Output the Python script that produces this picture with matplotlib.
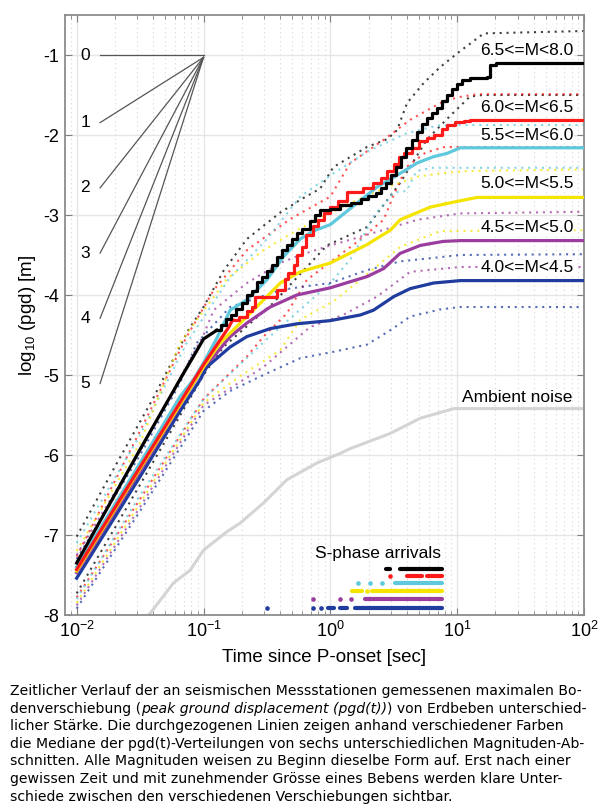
import numpy as np
import matplotlib
matplotlib.use("Agg")
import matplotlib.pyplot as plt
from matplotlib.ticker import LogLocator, NullFormatter

plt.rcParams['font.family'] = ['Liberation Sans', 'DejaVu Sans']
plt.rcParams['mathtext.fontset'] = 'custom'
plt.rcParams['mathtext.rm'] = 'Liberation Sans'
plt.rcParams['mathtext.it'] = 'Liberation Sans:italic'
plt.rcParams['axes.unicode_minus'] = False

# --- medians (x given as log10 of time in sec) ---
# black and red: smooth start, then a stair part (drawn with steps-post)
black_lt = [-2.0, -1.5, -1.158, -1.08, -1.0, -0.895]
black_y = [-7.35, -5.93, -4.98, -4.77, -4.55, -4.44]
black_step_lt = [-0.9, -0.86, -0.82, -0.78, -0.74, -0.7, -0.66, -0.62, -0.58, -0.54, -0.5,
                 -0.46, -0.42, -0.38, -0.34, -0.3, -0.26, -0.22, -0.16, -0.12, -0.08, 0.0,
                 0.08, 0.16, 0.24, 0.3, 0.36, 0.4, 0.44, 0.48, 0.52, 0.56, 0.6, 0.64, 0.68,
                 0.72, 0.76, 0.8, 0.84, 0.88, 0.92, 0.96, 1.0, 1.04, 1.1, 1.236, 1.262, 1.31, 2.0]
black_step_y = [-4.44, -4.38, -4.3, -4.25, -4.18, -4.1, -4.0, -3.95, -3.84, -3.78, -3.7,
                -3.62, -3.52, -3.44, -3.38, -3.3, -3.23, -3.18, -3.08, -3.0, -2.94, -2.92,
                -2.88, -2.85, -2.8, -2.76, -2.73, -2.66, -2.6, -2.5, -2.4, -2.28, -2.16, -2.06,
                -1.96, -1.86, -1.79, -1.72, -1.66, -1.58, -1.5, -1.42, -1.36, -1.31, -1.29,
                -1.27, -1.125, -1.1, -1.1]

red_lt = [-2.0, -1.5, -1.0, -0.8, -0.77]
red_y = [-7.43, -6.15, -4.87, -4.4, -4.31]
red_step_lt = [-0.77, -0.72, -0.66, -0.62, -0.593, -0.42, -0.36, -0.33, -0.29, -0.26, -0.22,
               -0.19, -0.14, -0.1, -0.05, 0.0, 0.06, 0.13, 0.26, 0.34, 0.4, 0.45, 0.5, 0.54,
               0.58, 0.64, 0.7, 0.76, 0.82, 0.88, 0.92, 0.98, 1.05, 1.105, 2.0]
red_step_y = [-4.31, -4.28, -4.2, -4.15, -4.02, -3.94, -3.8, -3.73, -3.62, -3.5, -3.4,
              -3.25, -3.14, -3.06, -2.98, -2.9, -2.82, -2.71, -2.66, -2.6, -2.54, -2.45, -2.36,
              -2.28, -2.22, -2.16, -2.08, -2.04, -2.0, -1.92, -1.87, -1.84, -1.82, -1.81, -1.81]

cyan_lt = [-2.0, -1.5, -1.343, -1.185, -1.08, -1.0, -0.895, -0.79, -0.658, -0.5, -0.37,
           -0.237, -0.134, 0.0, 0.157, 0.368, 0.55, 0.684, 0.815, 0.92, 1.025, 1.1, 2.0]
cyan_y = [-7.4, -6.1, -5.69, -5.27, -5.06, -4.85, -4.54, -4.19, -4.06, -3.81, -3.52,
          -3.3, -3.2, -3.12, -2.92, -2.65, -2.48, -2.35, -2.27, -2.23, -2.16, -2.16, -2.16]

yellow_lt = [-2.0, -1.5, -1.0, -0.869, -0.658, -0.5, -0.395, -0.237, 0.0, 0.289, 0.473,
             0.55, 0.79, 1.0, 1.158, 2.0]
yellow_y = [-7.45, -6.17, -4.9, -4.6, -4.27, -4.02, -3.85, -3.71, -3.6, -3.37, -3.19,
            -3.06, -2.9, -2.83, -2.78, -2.78]

purple_lt = [-2.0, -1.5, -1.185, -1.0, -0.92, -0.79, -0.658, -0.474, -0.264, 0.0, 0.289,
             0.42, 0.55, 0.71, 0.89, 1.025, 2.0]
purple_y = [-7.47, -6.2, -5.38, -4.9, -4.77, -4.52, -4.35, -4.15, -4.0, -3.91, -3.77,
            -3.67, -3.48, -3.38, -3.33, -3.32, -3.32]

blue_lt = [-2.0, -1.5, -1.185, -1.027, -0.974, -0.79, -0.658, -0.474, -0.264, 0.0, 0.236,
           0.34, 0.5, 0.63, 0.815, 1.025, 2.0]
blue_y = [-7.54, -6.27, -5.45, -5.06, -4.9, -4.65, -4.52, -4.42, -4.36, -4.32, -4.25,
          -4.19, -4.02, -3.92, -3.85, -3.82, -3.82]

# --- upper / lower percentiles (dotted) ---
black_hi_lt = [-2.0, -1.7, -1.4, -1.12, -1.0, -0.843, -0.658, -0.395, -0.237, -0.08, 0.025,
               0.289, 0.45, 0.526, 0.605, 0.736, 0.867, 1.0, 1.21, 2.0]
black_hi_y = [-7.02, -6.15, -5.3, -4.44, -4.15, -3.7, -3.3, -2.97, -2.81, -2.67, -2.4,
              -2.15, -2.05, -1.94, -1.6, -1.35, -1.15, -0.98, -0.73, -0.70]
black_lo_lt = [-2.0, -1.5, -1.0, -0.843, -0.45, -0.027, 0.289, 0.55, 0.76, 0.92, 1.1, 1.2, 2.0]
black_lo_y = [-7.73, -6.37, -5.0, -4.65, -4.1, -3.38, -3.15, -2.6, -2.06, -1.8, -1.52, -1.5, -1.5]

red_hi_lt = [-2.0, -1.5, -1.132, -0.92, -0.658, -0.316, 0.0, 0.157, 0.42, 0.63, 0.867,
             1.0, 1.158, 2.0]
red_hi_y = [-7.27, -5.7, -4.52, -3.94, -3.44, -3.05, -2.77, -2.35, -2.06, -1.81, -1.6,
            -1.53, -1.49, -1.49]
red_lo_lt = [-2.0, -1.5, -1.0, -0.658, -0.527, -0.343, -0.185, 0.2, 0.42, 0.5, 0.6, 0.75,
             0.9, 2.0]
red_lo_y = [-7.78, -6.55, -5.3, -4.77, -4.52, -4.23, -3.81, -3.35, -3.06, -2.75, -2.4, -2.22,
            -2.15, -2.15]

cyan_hi_lt = [-2.0, -1.5, -1.132, -0.8, -0.5, -0.237, 0.025, 0.3, 0.6, 0.85, 1.0, 2.0]
cyan_hi_y = [-7.1, -5.75, -4.6, -3.8, -3.3, -2.77, -2.48, -2.2, -1.98, -1.88, -1.875, -1.875]
cyan_lo_lt = [-2.0, -1.5, -1.0, -0.5, 0.0, 0.16, 0.35, 0.5, 0.6, 0.68, 0.8, 2.0]
cyan_lo_y = [-7.8, -6.5, -5.3, -4.55, -3.85, -3.55, -3.0, -2.72, -2.7, -2.45, -2.41, -2.41]

yellow_hi_lt = [-2.0, -1.5, -1.185, -0.816, -0.527, -0.264, -0.106, 0.157, 0.45, 0.684,
                0.867, 1.08, 2.0]
yellow_hi_y = [-7.2, -5.85, -4.6, -3.8, -3.44, -3.19, -3.06, -2.85, -2.65, -2.52,
               -2.48, -2.45, -2.43]
yellow_lo_lt = [-2.0, -1.5, -1.0, -0.7, -0.395, -0.237, 0.025, 0.236, 0.55, 0.867, 2.0]
yellow_lo_y = [-7.85, -6.6, -5.35, -5.0, -4.69, -4.31, -4.08, -3.81, -3.4, -3.2, -3.19]

purple_hi_lt = [-2.0, -1.5, -1.0, -0.92, -0.658, -0.395, -0.237, 0.0, 0.157, 0.684, 1.025, 2.0]
purple_hi_y = [-7.25, -5.95, -4.5, -4.19, -3.85, -3.6, -3.5, -3.38, -3.31, -3.06, -2.98, -2.96]
purple_lo_lt = [-2.0, -1.5, -1.0, -0.527, -0.16, 0.1, 0.368, 0.63, 1.025, 2.0]
purple_lo_y = [-7.88, -6.65, -5.38, -4.9, -4.4, -4.25, -4.02, -3.71, -3.65, -3.65]

blue_hi_lt = [-2.0, -1.5, -1.185, -1.053, -0.79, -0.395, -0.237, 0.0, 0.289, 0.55, 1.025, 2.0]
blue_hi_y = [-7.3, -6.0, -5.1, -4.6, -4.15, -3.94, -3.9, -3.85, -3.69, -3.58, -3.5, -3.49]
blue_lo_lt = [-2.0, -1.5, -1.0, -0.79, -0.527, -0.237, 0.025, 0.289, 0.473, 0.63, 0.867,
              1.025, 2.0]
blue_lo_y = [-7.92, -6.7, -5.45, -5.2, -5.0, -4.79, -4.71, -4.62, -4.44, -4.27, -4.18,
             -4.15, -4.15]

noise_lt = [-1.47, -1.421, -1.237, -1.105, -1.0, -0.816, -0.71, -0.527, -0.343, -0.106,
            0.078, 0.157, 0.473, 0.71, 0.973, 2.0]
noise_y = [-8.05, -7.98, -7.6, -7.44, -7.19, -6.96, -6.85, -6.6, -6.31, -6.1,
           -5.98, -5.92, -5.73, -5.54, -5.42, -5.42]

# S-phase arrivals: runs (start, end) and single dots, in sec, one row per magnitude class
s_black_runs = [(2.73, 2.97), (3.55, 7.6)]
s_black_dots = []
s_red_runs = [(4.0, 5.3), (5.75, 7.6)]
s_red_dots = [2.97]
s_cyan_runs = [(3.25, 7.6)]
s_cyan_dots = [1.64, 2.07, 2.55]
s_yellow_runs = [(1.48, 1.78), (2.13, 7.6)]
s_yellow_dots = [1.96]
s_purple_runs = [(1.89, 7.6)]
s_purple_dots = [0.735, 1.2, 1.46]
s_blue_runs = [(0.96, 1.06), (1.2, 1.35), (1.57, 7.6)]
s_blue_dots = [0.316, 0.735, 0.84]
s_rows_y = [-7.42, -7.51, -7.6, -7.7, -7.8, -7.91]

mag_labels = ['6.5<=M<8.0', '6.0<=M<6.5', '5.5<=M<6.0', '5.0<=M<5.5', '4.5<=M<5.0', '4.0<=M<4.5']
mag_label_y = [-0.94, -1.65, -2.0, -2.6, -3.15, -3.65]
colors = ['#000000', '#ff1a1a', '#5ec8dd', '#f5e400', '#9a3d9e', '#1f3c9e']

slopes = [0, 1, 2, 3, 4, 5]

caption = [
    "Zeitlicher Verlauf der an seismischen Messstationen gemessenen maximalen Bo-",
    None,
    "licher Stärke. Die durchgezogenen Linien zeigen anhand verschiedener Farben",
    "die Mediane der pgd(t)-Verteilungen von sechs unterschiedlichen Magnituden-Ab-",
    "schnitten. Alle Magnituden weisen zu Beginn dieselbe Form auf. Erst nach einer",
    "gewissen Zeit und mit zunehmender Grösse eines Bebens werden klare Unter-",
    "schiede zwischen den verschiedenen Verschiebungen sichtbar.",
]
caption_line2 = ["denverschiebung (", "peak ground displacement (pgd(t))", ") von Erdbeben unterschied-"]


def main():
    fig = plt.figure(figsize=(6.0, 8.06), dpi=100)
    ax = fig.add_axes([65 / 600, 1 - 615 / 806, 519 / 600, 600 / 806])

    medians = [(black_lt, black_y), (red_lt, red_y), (cyan_lt, cyan_y),
               (yellow_lt, yellow_y), (purple_lt, purple_y), (blue_lt, blue_y)]
    steps = {0: (black_step_lt, black_step_y), 1: (red_step_lt, red_step_y)}
    dotted = [(black_hi_lt, black_hi_y, black_lo_lt, black_lo_y),
              (red_hi_lt, red_hi_y, red_lo_lt, red_lo_y),
              (cyan_hi_lt, cyan_hi_y, cyan_lo_lt, cyan_lo_y),
              (yellow_hi_lt, yellow_hi_y, yellow_lo_lt, yellow_lo_y),
              (purple_hi_lt, purple_hi_y, purple_lo_lt, purple_lo_y),
              (blue_hi_lt, blue_hi_y, blue_lo_lt, blue_lo_y)]
    runs = [s_black_runs, s_red_runs, s_cyan_runs, s_yellow_runs, s_purple_runs, s_blue_runs]
    dots = [s_black_dots, s_red_dots, s_cyan_dots, s_yellow_dots, s_purple_dots, s_blue_dots]

    # ambient noise
    ax.plot(10 ** np.array(noise_lt), noise_y, color='#d4d4d4', lw=2.2, zorder=2)

    # percentile lines
    for (hl, hy, ll, ly), c in zip(dotted, colors):
        for lt, yv in ((hl, hy), (ll, ly)):
            ax.plot(10 ** np.array(lt), yv, color=c, lw=1.5, alpha=0.75,
                    ls=(0, (1, 2.3)), zorder=2)

    # medians, drawn blue first so black ends up on top
    for i in [5, 4, 3, 2, 1, 0]:
        lt, yv = medians[i]
        ax.plot(10 ** np.array(lt), yv, color=colors[i], lw=2.3, zorder=3)
        if i in steps:
            slt, sy = steps[i]
            ax.plot(10 ** np.array(slt), sy, color=colors[i], lw=2.3, zorder=3,
                    drawstyle='steps-post')

    # magnitude labels
    for lab, yl in zip(mag_labels, mag_label_y):
        ax.text(15.2, yl, lab, fontsize=12.5, ha='left', va='center', zorder=4,
                bbox=dict(facecolor='white', edgecolor='none', pad=0.3))

    # slope fan
    t0, t1 = 0.0153, 0.1
    for n in slopes:
        y1 = -1.0 if n == 0 else -1.03
        y0 = y1 - n * (np.log10(t1) - np.log10(t0))
        ax.plot([t0, t1], [y0, y1], color='#555555', lw=0.9, zorder=3)
        ax.text(0.0117, y0, str(n), fontsize=12.5, ha='center', va='center')

    # S-phase arrivals
    for rr, dd, yr, c in zip(runs, dots, s_rows_y, colors):
        for a, b in rr:
            ax.plot([a, b], [yr, yr], color=c, lw=3.0, solid_capstyle='round', zorder=3)
        if dd:
            ax.scatter(dd, [yr] * len(dd), s=11, color=c, zorder=3, linewidths=0)
    ax.text(0.76, -7.23, 'S-phase arrivals', fontsize=12.5, ha='left', va='center')
    ax.text(11.0, -5.28, 'Ambient noise', fontsize=12.5, ha='left', va='center')

    ax.set_xscale('log')
    ax.set_xlim(10 ** -2.092, 100)
    ax.set_ylim(-8, -0.5)
    ax.set_yticks([-8, -7, -6, -5, -4, -3, -2, -1])
    ax.xaxis.set_major_locator(LogLocator(base=10, numticks=10))
    ax.xaxis.set_minor_locator(LogLocator(base=10, subs=np.arange(2, 10), numticks=20))
    ax.xaxis.set_minor_formatter(NullFormatter())
    ax.tick_params(which='both', direction='in', top=True, right=True, color='#808080',
                   labelsize=13, pad=4)
    ax.tick_params(which='major', length=5)
    ax.tick_params(which='minor', length=3)
    ax.set_axisbelow(True)
    ax.grid(which='major', color='#e6e6e6', lw=1.0, ls='-')
    ax.grid(which='minor', axis='x', color='#d6d6d6', lw=0.8, ls=(0, (1, 3)))
    for s in ax.spines.values():
        s.set_color('#8c8c8c')
        s.set_linewidth(1.3)

    ax.set_xlabel('Time since P-onset [sec]', fontsize=13.5, labelpad=6)
    ax.set_ylabel('log$_{10}$ (pgd) [m]', fontsize=13.5, labelpad=4)

    # caption below the chart
    fs = 10.1
    cap_kw = dict(fontsize=fs, family='DejaVu Sans', va='center', ha='left')
    y_first = 1 - 691 / 806
    step = 17.6 / 806
    for i, line in enumerate(caption):
        yy = y_first - i * step
        if line is not None:
            fig.text(10 / 600, yy, line, **cap_kw)
        else:
            t = fig.text(10 / 600, yy, caption_line2[0], **cap_kw)
            t2 = ax.annotate(caption_line2[1], xy=(1, 0), xycoords=t, va='bottom',
                             ha='left', fontsize=fs, family='DejaVu Sans', style='italic',
                             annotation_clip=False)
            ax.annotate(caption_line2[2], xy=(1, 0), xycoords=t2, va='bottom',
                        ha='left', fontsize=fs, family='DejaVu Sans', annotation_clip=False)

    fig.savefig('out.png', dpi=100)


if __name__ == "__main__":
    main()
